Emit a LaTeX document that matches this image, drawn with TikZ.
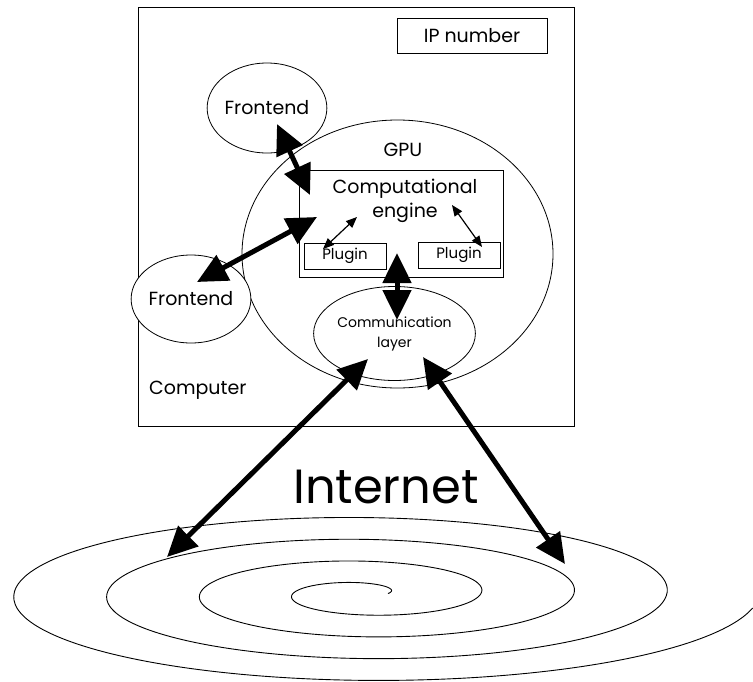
\documentclass[tikz,border=0pt]{standalone}
\usepackage{fontspec}
\setmainfont{Poppins}
\usetikzlibrary{arrows.meta,shapes.geometric}

\begin{document}
\begin{tikzpicture}[x=1pt,y=-1pt,
    main_node/.style={ellipse,draw,fill=white,line width=0.8pt,inner sep=0pt},
    box_node/.style={rectangle,draw,fill=white,line width=0.8pt,inner sep=0pt},
    big_arrow/.style={{Triangle[length=30pt,width=28pt]}-{Triangle[length=30pt,width=28pt]},line width=5pt},
    small_arrow/.style={{Triangle[length=11pt,width=9pt]}-{Triangle[length=11pt,width=9pt]},line width=1.2pt},
    txt/.style={font=\fontsize{19}{24}\selectfont,align=center,inner sep=0pt}]

    \useasboundingbox (0,0) rectangle (753,681);

    \node[box_node,minimum width=436pt,minimum height=419pt] (computer) at (356,216.5) {};
    \node[txt,anchor=west] (computer_lbl) at (149,390) {Computer};
    \node[box_node,minimum width=150pt,minimum height=35pt,txt] (ip) at (472,35.5) {IP number};

    \node[main_node,minimum width=311pt,minimum height=268pt] (gpu) at (397.5,254) {};
    \node[txt] (gpu_lbl) at (403,150) {GPU};

    \node[box_node,minimum width=204pt,minimum height=107pt] (engine) at (401,223.5) {};
    \node[txt] (engine_lbl) at (405,201) {Computational\\engine};
    \node[box_node,minimum width=82pt,minimum height=26pt,txt,font=\fontsize{15}{18}\selectfont] (plug1) at (345,256) {Plugin};
    \node[box_node,minimum width=82pt,minimum height=26pt,txt,font=\fontsize{15}{18}\selectfont] (plug2) at (459,255) {Plugin};

    \node[main_node,minimum width=100pt,minimum height=90pt,txt] (fe1) at (267,108) {Frontend};
    \node[main_node,minimum width=100pt,minimum height=88pt,txt] (fe2) at (191,299) {Frontend};
    \node[main_node,minimum width=135pt,minimum height=94pt,txt,font=\fontsize{14}{20}\selectfont] (comm) at (394.5,333.5) {Communication\\layer};

    \node[txt,font=\fontsize{48}{50}\selectfont] (internet) at (386,487) {Internet};

    % spiral
    \draw[line width=0.9pt] plot[domain=0:24.98,samples=500,variable=\t,smooth]
      ({363.75+(24.25+14.8*\t)*cos(\t r)},{593.5-(5.1+3.47*\t)*sin(\t r)});

    % arrow ends
    \coordinate (fe1_end) at (277,124);
    \coordinate (fe1_eng) at (310,195);
    \coordinate (fe2_end) at (197,282);
    \coordinate (fe2_eng) at (317,217);
    \coordinate (p1_end) at (323,249);
    \coordinate (p1_eng) at (357,217);
    \coordinate (p2_eng) at (452,205);
    \coordinate (p2_end) at (482,247);
    \coordinate (eng_bot) at (397,253);
    \coordinate (comm_top) at (397,320);
    \coordinate (comm_l) at (368,359);
    \coordinate (net_l) at (167,557);
    \coordinate (comm_r) at (423,357);
    \coordinate (net_r) at (565,564);

    \draw[big_arrow] (fe1_end) -- (fe1_eng);
    \draw[big_arrow] (fe2_end) -- (fe2_eng);
    \draw[big_arrow] (eng_bot) -- (comm_top);
    \draw[big_arrow] (comm_l) -- (net_l);
    \draw[big_arrow] (comm_r) -- (net_r);
    \draw[small_arrow] (p1_end) -- (p1_eng);
    \draw[small_arrow] (p2_eng) -- (p2_end);
\end{tikzpicture}
\end{document}
